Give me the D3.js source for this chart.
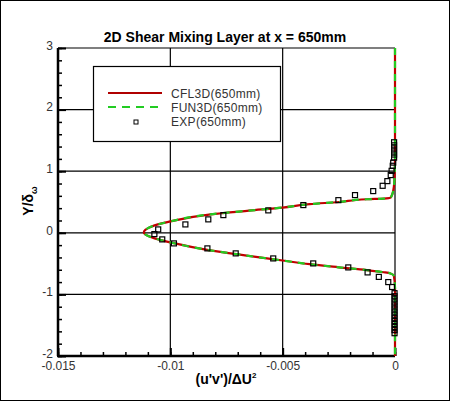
<!DOCTYPE html>
<html>
<head>
<meta charset="utf-8">
<script src="https://cdn.jsdelivr.net/npm/d3@7"></script>
<style>
  html, body { margin: 0; padding: 0; background: #fff; }
  svg { display: block; font-family: "Liberation Sans", Arial, sans-serif; }
</style>
</head>
<body>
<svg id="chart" width="450" height="401"></svg>
<script>
// CFL3D profile (y descending)
const cflY = [3.0, 1.2, 0.9, 0.75, 0.65, 0.6, 0.57, 0.555, 0.545, 0.5, 0.466, 0.41, 0.36, 0.3, 0.19, 0.12, 0.05, 0.01,
  -0.03, -0.09, -0.16, -0.28, -0.37, -0.45, -0.51, -0.56, -0.605, -0.64, -0.66, -0.7, -0.9, -2.0];
const cflX = [0, 0, -0.00002, -0.00005, -0.0001, -0.00015, -0.0002, -0.0005, -0.00126, -0.0025, -0.0038, -0.005, -0.0065, -0.0082, -0.00995, -0.0107, -0.0111, -0.01118,
  -0.0111, -0.0107, -0.00995, -0.0083, -0.0066, -0.005, -0.0038, -0.0025, -0.00126, -0.0005, -0.0002, -0.00005, 0, 0];

// FUN3D profile
const funY = [3.0, 1.2, 0.9, 0.75, 0.65, 0.6, 0.57, 0.555, 0.545, 0.5, 0.466, 0.41, 0.36, 0.3, 0.19, 0.12, 0.05, 0.01,
  -0.03, -0.09, -0.16, -0.28, -0.37, -0.45, -0.51, -0.56, -0.605, -0.64, -0.66, -0.7, -0.9, -2.0];
const funX = [0, 0, -0.00002, -0.00005, -0.0001, -0.00015, -0.0002, -0.0005, -0.00126, -0.0025, -0.0038, -0.005, -0.0065, -0.0082, -0.00995, -0.0107, -0.0111, -0.01116,
  -0.0111, -0.0107, -0.00995, -0.0083, -0.0066, -0.005, -0.0038, -0.0025, -0.00126, -0.0005, -0.0002, -0.00005, 0, 0];

// experiment
const expY = [1.47, 1.42, 1.37, 1.32, 1.27, 1.22, 1.14, 1.088, 1.006, 0.937, 0.839, 0.763, 0.677, 0.612, 0.53, 0.45, 0.364, 0.287, 0.218, 0.136, 0.055, -0.021,
  -0.107, -0.172, -0.253, -0.334, -0.416, -0.497, -0.562, -0.643, -0.716, -0.8, -0.88,
  -0.98, -1.03, -1.08, -1.13, -1.18, -1.23, -1.28, -1.33, -1.38, -1.43, -1.48, -1.53, -1.58, -1.63];
const expX = [-0.00004, -0.00004, -0.00004, -0.00004, -0.00004, -0.00004, -0.00008, -0.0001, -0.00015, -0.00019, -0.00034, -0.00055, -0.00097, -0.00178, -0.00252, -0.00408, -0.00564, -0.00764, -0.00831, -0.00933, -0.01054, -0.01071,
  -0.01036, -0.00984, -0.00835, -0.00709, -0.00542, -0.00364, -0.00208, -0.00122, -0.00072, -0.0003, -0.00013,
  -0.00002, -0.00002, -0.00002, -0.00002, -0.00002, -0.00002, -0.00002, -0.00002, -0.00002, -0.00002, -0.00002, -0.00002, -0.00002, -0.00002];

const xMajor = [-0.015, -0.01, -0.005, 0];
const yMajor = [3, 2, 1, 0, -1, -2];
const xGrid = [-0.01, -0.005];
const yGrid = [2, 1, 0, -1];
const legendLabels = ["CFL3D(650mm)", "FUN3D(650mm)", "EXP(650mm)"];

const svg = d3.select("#chart");
const width = 450;
const height = 401;
const margin = { top: 48, right: 55, bottom: 45, left: 58 };

const x = d3.scaleLinear().domain([-0.015, 0]).range([margin.left, width - margin.right]);
const y = d3.scaleLinear().domain([-2, 3]).range([height - margin.bottom, margin.top]);

// outer frame
svg.append("rect")
  .attr("x", 0.5).attr("y", 0.5)
  .attr("width", width - 1).attr("height", height - 1)
  .attr("fill", "#fff").attr("stroke", "#000");

// grid
svg.append("g")
  .selectAll("line")
  .data(xGrid)
  .join("line")
  .attr("x1", (d) => x(d)).attr("x2", (d) => x(d))
  .attr("y1", y(3)).attr("y2", y(-2))
  .attr("stroke", "#000").attr("stroke-width", 1.2);

svg.append("g")
  .selectAll("line")
  .data(yGrid)
  .join("line")
  .attr("x1", x(-0.015)).attr("x2", x(0))
  .attr("y1", (d) => y(d)).attr("y2", (d) => y(d))
  .attr("stroke", "#000").attr("stroke-width", 1.2);

// top + right border
svg.append("line")
  .attr("x1", x(-0.015)).attr("x2", x(0))
  .attr("y1", y(3)).attr("y2", y(3))
  .attr("stroke", "#000").attr("stroke-width", 1.2);
svg.append("line")
  .attr("x1", x(0)).attr("x2", x(0))
  .attr("y1", y(3)).attr("y2", y(-2))
  .attr("stroke", "#000").attr("stroke-width", 1.2);

// minor ticks
svg.append("g")
  .attr("transform", `translate(${margin.left},0)`)
  .call(d3.axisLeft(y).ticks(25).tickSize(-4).tickFormat(""))
  .call((g) => g.select(".domain").remove())
  .call((g) => g.selectAll("line").attr("stroke", "#000").attr("stroke-width", 1.5));

svg.append("g")
  .attr("transform", `translate(0,${height - margin.bottom})`)
  .call(d3.axisBottom(x).ticks(15).tickSize(-4).tickFormat(""))
  .call((g) => g.select(".domain").remove())
  .call((g) => g.selectAll("line").attr("stroke", "#000").attr("stroke-width", 1.5));

// major ticks + labels
svg.append("g")
  .attr("transform", `translate(${margin.left},0)`)
  .call(d3.axisLeft(y).tickValues(yMajor).tickSize(-8).tickPadding(5).tickFormat((d) => String(d)))
  .call((g) => g.select(".domain").attr("stroke-width", 2.5).attr("d", `M0,${y(3)}V${y(-2)}`))
  .call((g) => g.selectAll("line").attr("stroke", "#000").attr("stroke-width", 2))
  .call((g) => g.selectAll("text").attr("fill", "#333").style("font-size", "12px").attr("dy", "0.1em"));

svg.append("g")
  .attr("transform", `translate(0,${height - margin.bottom})`)
  .call(d3.axisBottom(x).tickValues(xMajor).tickSize(-8).tickPadding(12).tickFormat((d) => String(d)))
  .call((g) => g.select(".domain").attr("stroke-width", 2.5).attr("d", `M${x(-0.015) - 1},0H${x(0)}`))
  .call((g) => g.selectAll("line").attr("stroke", "#000").attr("stroke-width", 2))
  .call((g) => g.selectAll("text").attr("fill", "#333").style("font-size", "12px").attr("dy", "0.2em"));

// curves
const cfl = cflY.map((v, i) => ({ x: cflX[i], y: v }));
const fun = funY.map((v, i) => ({ x: funX[i], y: v }));
const line = d3.line()
  .x((d) => x(d.x))
  .y((d) => y(d.y))
  .curve(d3.curveMonotoneY);

svg.append("path")
  .datum(cfl)
  .attr("d", line)
  .attr("fill", "none")
  .attr("stroke", "#c00000")
  .attr("stroke-width", 2.2);

svg.append("path")
  .datum(fun)
  .attr("d", line)
  .attr("fill", "none")
  .attr("stroke", "#22cc22")
  .attr("stroke-width", 2.2)
  .attr("stroke-dasharray", "7,6");

// experiment squares
const s = 5;
svg.append("g")
  .selectAll("rect")
  .data(expY.map((v, i) => ({ x: expX[i], y: v })))
  .join("rect")
  .attr("x", (d) => x(d.x) - s / 2)
  .attr("y", (d) => y(d.y) - s / 2)
  .attr("width", s).attr("height", s)
  .attr("fill", "none")
  .attr("stroke", "#000")
  .attr("stroke-width", 1.2);

// legend
const lg = svg.append("g");
lg.append("rect")
  .attr("x", 93.5).attr("y", 66.5)
  .attr("width", 187).attr("height", 75)
  .attr("fill", "#fff").attr("stroke", "#000").attr("stroke-width", 1.2);
lg.append("line")
  .attr("x1", 108).attr("x2", 162).attr("y1", 93).attr("y2", 93)
  .attr("stroke", "#b00000").attr("stroke-width", 2.2);
lg.append("line")
  .attr("x1", 108).attr("x2", 162).attr("y1", 107).attr("y2", 107)
  .attr("stroke", "#22cc22").attr("stroke-width", 2.2).attr("stroke-dasharray", "8,6");
lg.append("rect")
  .attr("x", 134).attr("y", 120).attr("width", 4).attr("height", 4)
  .attr("fill", "none").attr("stroke", "#000").attr("stroke-width", 1);
lg.selectAll("text")
  .data(legendLabels)
  .join("text")
  .attr("x", 171)
  .attr("y", (d, i) => 97.5 + i * 14)
  .attr("fill", "#333")
  .style("font-size", "12px")
  .style("letter-spacing", "0.3px")
  .text((d) => d);

// title
svg.append("text")
  .attr("x", 225).attr("y", 42)
  .attr("text-anchor", "middle")
  .style("font-size", "14px").style("font-weight", "bold")
  .text("2D Shear Mixing Layer at x = 650mm");

// axis titles
const xt = svg.append("text")
  .attr("x", 226).attr("y", 384)
  .attr("text-anchor", "middle")
  .style("font-size", "14px").style("font-weight", "bold");
xt.append("tspan").text("(u'v')/\u0394U");
xt.append("tspan").attr("dy", -6).style("font-size", "8px").text("2");

const yt = svg.append("text")
  .attr("transform", "translate(33,201) rotate(-90)")
  .attr("text-anchor", "middle")
  .style("font-size", "14px").style("font-weight", "bold");
yt.append("tspan").text("Y/\u03b4");
yt.append("tspan").attr("dy", 4).style("font-size", "9px").text("\u03c9");
</script>
</body>
</html>
